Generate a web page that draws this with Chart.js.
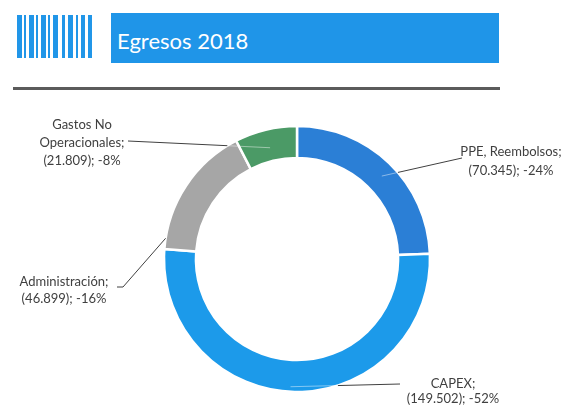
<!DOCTYPE html>
<html>
<head>
<meta charset="utf-8">
<script src="https://cdn.jsdelivr.net/npm/chart.js@4.4.1/dist/chart.umd.min.js"></script>
<style>
  html, body { margin: 0; padding: 0; background: #ffffff; }
  #wrap { position: relative; width: 578px; height: 405px; overflow: hidden; background: #ffffff; }
  #chart { position: absolute; left: 0; top: 0; }
  .stripe { position: absolute; top: 15px; height: 43px; background: #2196e8; }
  #banner { position: absolute; left: 111px; top: 13px; width: 388px; height: 50px; background: #1f95e8; }
  #title { position: absolute; left: 117px; top: 28px; font-family: Lato, "Open Sans", sans-serif;
           font-size: 22px; line-height: 26px; color: #ffffff; white-space: nowrap; }
  #rule { position: absolute; left: 13px; top: 87px; width: 487px; height: 3px; background: #5b5b5b; }
</style>
</head>
<body>
<div id="wrap">
  <div id="stripes"></div>
  <div id="banner"></div>
  <div id="title">Egresos 2018</div>
  <div id="rule"></div>
  <canvas id="chart" width="578" height="405"></canvas>
</div>
<script>
// Expense categories for 2018 (thousands, shown as negatives in parentheses)
const categories = ['PPE, Reembolsos', 'CAPEX', 'Administración', 'Gastos No Operacionales'];
const values = [70345, 149502, 46899, 21809];
const colors = ['#2b7fd6', '#1c9aea', '#a6a6a6', '#4b9a66'];

// Header stripe ornament
const stripeSpecs = [[17, 5], [24, 2], [29, 5], [36, 2], [41, 5], [48, 2], [53, 5], [62, 3], [68, 5], [76, 2], [81, 4], [88, 4]];
const stripesEl = document.getElementById('stripes');
stripeSpecs.forEach(([x, w]) => {
  const d = document.createElement('div');
  d.className = 'stripe';
  d.style.left = x + 'px';
  d.style.width = w + 'px';
  stripesEl.appendChild(d);
});

const total = values.reduce((a, b) => a + b, 0);
const fmtThousands = v => String(v).replace(/\B(?=(\d{3})+(?!\d))/g, '.');

// Where each callout sits and where its leader line attaches on the ring
const calloutLayout = [
  { angleFrac: 0.52, radiusFrac: 0.55, path: [[462, 158]], textX: 511, lineY: [152, 171], maxWidth: 140 },
  { angleFrac: 0.51, radiusFrac: 0.84, path: [[400, 384]], textX: 453, lineY: [384, 399], maxWidth: 140 },
  { angleFrac: 0.08, radiusFrac: 1.0, path: [[123, 287], [117, 287]], textX: 64, lineY: [282, 299], maxWidth: 140 },
  { angleFrac: 0.5, radiusFrac: 0.42, path: [[128, 141]], textX: 82, lineY: [125, 143, 161], maxWidth: 95 }
];

function wrapWords(ctx, text, maxWidth) {
  const words = text.split(' ');
  const lines = [];
  let cur = '';
  words.forEach(w => {
    const test = cur ? cur + ' ' + w : w;
    if (cur && ctx.measureText(test).width > maxWidth) {
      lines.push(cur);
      cur = w;
    } else {
      cur = test;
    }
  });
  if (cur) lines.push(cur);
  return lines;
}

const calloutPlugin = {
  id: 'callouts',
  afterDatasetsDraw(chart) {
    const ctx = chart.ctx;
    const meta = chart.getDatasetMeta(0);
    ctx.save();
    ctx.font = '13px Lato, "Open Sans", sans-serif';
    meta.data.forEach((arc, i) => {
      const lay = calloutLayout[i];
      const p = arc.getProps(['x', 'y', 'startAngle', 'endAngle', 'innerRadius', 'outerRadius'], true);
      const ang = p.startAngle + (p.endAngle - p.startAngle) * lay.angleFrac;
      const r = p.innerRadius + (p.outerRadius - p.innerRadius) * lay.radiusFrac;
      const ax = p.x + Math.cos(ang) * r;
      const ay = p.y + Math.sin(ang) * r;
      const [bx, by] = lay.path[0];
      // where the first leg leaves the ring
      const dx = bx - ax, dy = by - ay;
      const fx = ax - p.x, fy = ay - p.y;
      const R = p.outerRadius;
      const A = dx * dx + dy * dy, B = 2 * (fx * dx + fy * dy), C = fx * fx + fy * fy - R * R;
      let t = (-B + Math.sqrt(Math.max(B * B - 4 * A * C, 0))) / (2 * A);
      t = Math.min(Math.max(t, 0), 1);
      const ix = ax + dx * t, iy = ay + dy * t;
      ctx.lineWidth = 1;
      ctx.strokeStyle = 'rgba(255,255,255,0.45)';
      ctx.beginPath();
      ctx.moveTo(ax, ay);
      ctx.lineTo(ix, iy);
      ctx.stroke();
      ctx.strokeStyle = '#404040';
      ctx.beginPath();
      ctx.moveTo(ix, iy);
      lay.path.forEach(([x, y]) => ctx.lineTo(x, y));
      ctx.stroke();

      const pct = Math.round(values[i] / total * 100);
      const lines = wrapWords(ctx, categories[i] + ';', lay.maxWidth);
      lines.push('(' + fmtThousands(values[i]) + '); -' + pct + '%');
      ctx.fillStyle = '#404040';
      ctx.textAlign = 'center';
      ctx.textBaseline = 'middle';
      lines.forEach((ln, k) => ctx.fillText(ln, lay.textX, lay.lineY[k]));
    });
    ctx.restore();
  }
};

new Chart(document.getElementById('chart'), {
  type: 'doughnut',
  data: {
    labels: categories,
    datasets: [{
      data: values,
      backgroundColor: colors,
      borderColor: '#ffffff',
      borderWidth: 2.5,
      radius: 133,
      cutout: '76%'
    }]
  },
  options: {
    responsive: false,
    animation: false,
    layout: { padding: { left: 150, right: 134, top: 126, bottom: 13 } },
    plugins: {
      legend: { display: false },
      tooltip: { enabled: false }
    }
  },
  plugins: [calloutPlugin]
});
</script>
</body>
</html>
